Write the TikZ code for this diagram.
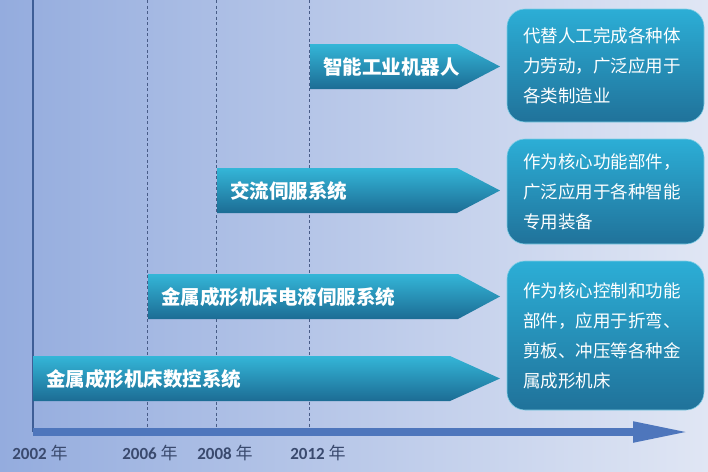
\documentclass[tikz,border=0pt]{standalone}
\usepackage{fontspec}
\setmainfont{Carlito}
\newfontfamily\cjk{Noto Sans CJK SC}
\usetikzlibrary{positioning,arrows.meta}

\definecolor{bgleft}{RGB}{148,172,222}
\definecolor{bgright}{RGB}{224,230,244}
\definecolor{bandtop}{RGB}{52,182,216}
\definecolor{bandbot}{RGB}{28,108,148}
\definecolor{boxtop}{RGB}{44,174,214}
\definecolor{boxbot}{RGB}{32,114,154}
\definecolor{axiscol}{RGB}{78,118,188}
\definecolor{gridcol}{RGB}{72,92,135}
\definecolor{yearcol}{RGB}{58,74,110}

\tikzset{
  bandtext/.style={anchor=west,text=white,inner sep=0pt,
    font=\cjk\bfseries\fontsize{19.5}{20}\selectfont},
  infobox/.style={rounded corners=18pt,top color=boxtop,bottom color=boxbot,
    draw=boxtop!60!white,line width=0.6pt,minimum width=197pt,
    text width=165pt,align=left,text=white,inner sep=0pt,
    font=\cjk\fontsize{17.5}{30}\selectfont},
  yearlabel/.style={text=yearcol,font=\bfseries\fontsize{17}{17}\selectfont},
  gridline/.style={draw=gridcol,dash pattern=on 3pt off 2.5pt,line width=0.8pt},
}

\begin{document}
\begin{tikzpicture}[x=1pt,y=-1pt]
\useasboundingbox (0,0) rectangle (708,471);
\shade[left color=bgleft,right color=bgright] (0,0) rectangle (708,471);

\coordinate (origin) at (33,432);
\coordinate (tip) at (690,432);

\foreach \x in {147,216,309}
  \draw[gridline] (\x,0) -- (\x,428);
\draw[draw=axiscol!80!black,line width=1.2pt] (33,0) -- (origin);

\foreach \l/\t/\s/\n/\txt in {310/44/457/robot/智能工业机器人,
    217/168/457/acservo/交流伺服系统,
    148/274/458/hydro/金属成形机床电液伺服系统,
    33/356/450/cnc/金属成形机床数控系统}{
  \shade[top color=bandtop,bottom color=bandbot]
    (\l,\t) -- (\s,\t) -- (500,\t+22.5) -- (\s,\t+45) -- (\l,\t+45) -- cycle;
  \node[bandtext] (\n) at (\l+13,\t+23) {\txt};
}

\node[infobox,minimum height=113pt] (box1) at (605.5,65.5)
  {代替人工完成各种体\\力劳动，广泛应用于\\各类制造业};
\node[infobox,minimum height=105pt] (box2) at (605.5,191.5)
  {作为核心功能部件，\\广泛应用于各种智能\\专用装备};
\node[infobox,minimum height=149pt] (box3) at (605.5,335.5)
  {作为核心控制和功能\\部件，应用于折弯、\\剪板、冲压等各种金\\属成形机床};

\draw[axiscol,line width=8pt,-{Triangle[length=57pt,width=19pt]}] (origin) -- (tip);

\node[yearlabel] (y2002) at (40,453) {2002 {\cjk\mdseries 年}};
\node[yearlabel] (y2006) at (150,453) {2006 {\cjk\mdseries 年}};
\node[yearlabel] (y2008) at (225,453) {2008 {\cjk\mdseries 年}};
\node[yearlabel] (y2012) at (318,453) {2012 {\cjk\mdseries 年}};
\end{tikzpicture}
\end{document}
